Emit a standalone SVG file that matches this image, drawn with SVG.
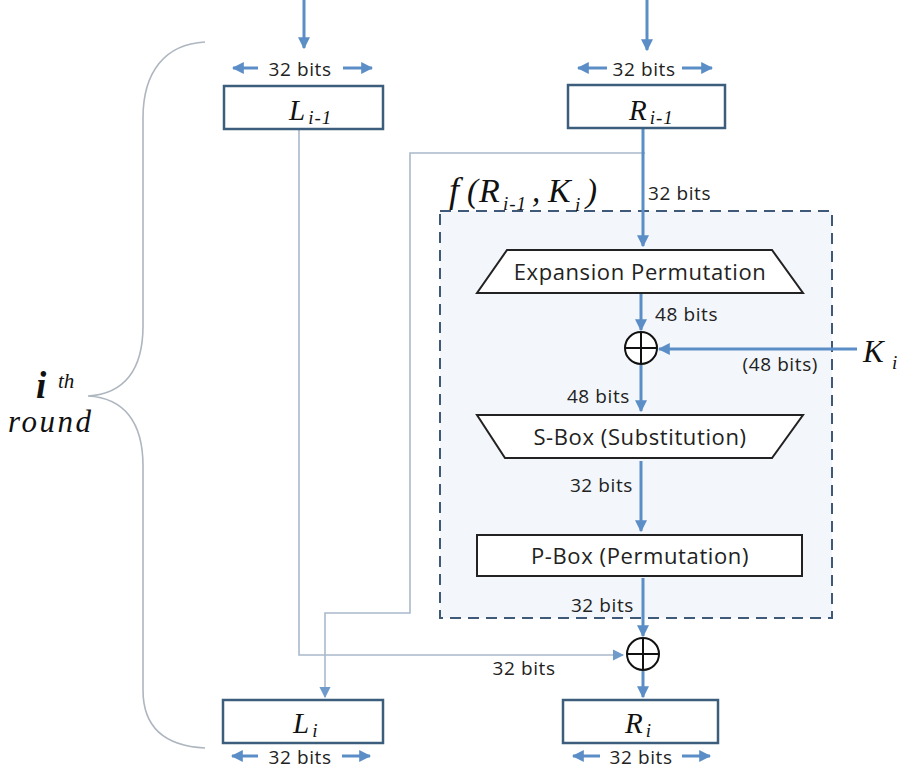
<svg xmlns="http://www.w3.org/2000/svg" width="903" height="771" viewBox="0 0 903 771">
<defs>
<marker id="ah" viewBox="0 0 10 10" refX="9" refY="5" markerWidth="4" markerHeight="4" orient="auto-start-reverse" markerUnits="strokeWidth">
<path d="M0,0 L10,5 L0,10 z" fill="#5b8ec6"/>
</marker>
<marker id="ahs" viewBox="0 0 10 10" refX="9" refY="5" markerWidth="7" markerHeight="7" orient="auto-start-reverse" markerUnits="strokeWidth">
<path d="M0,0 L10,5 L0,10 z" fill="#6f9bcb"/>
</marker>
<style>
.lbl{font-family:"Open Sans","Noto Sans",sans-serif;font-size:19px;letter-spacing:0.6px;fill:#222}
.blbl{font-family:"Open Sans","Noto Sans",sans-serif;font-size:22px;letter-spacing:0.6px;fill:#222}
.box{fill:#fff;stroke:#3d5d7d;stroke-width:2.5}
.blk{fill:#fff;stroke:#222;stroke-width:2}
.math{font-family:"Liberation Serif","DejaVu Serif",serif;font-style:italic;fill:#111}
.sub{font-size:19px;letter-spacing:1px}
.arr{stroke:#5b8ec6;stroke-width:3;fill:none;marker-end:url(#ah)}
.thin{stroke:#a9b9ca;stroke-width:1.6;fill:none}
.xor{fill:#fff;stroke:#111;stroke-width:2}
</style>
</defs>
<rect width="903" height="771" fill="#fff"/>

<g id="f-box">
<rect x="440" y="211" width="392" height="407" fill="#f3f6fa" stroke="#3f5a78" stroke-width="2" stroke-dasharray="11,7"/>
<text x="449" y="202" class="math" font-size="36">f</text>
<text x="467" y="202" class="math" font-size="33" font-style="normal">(</text>
<text x="479" y="202" class="math" font-size="34">R</text>
<text x="503" y="210" class="math sub" font-size="20">i-1</text>
<text x="532" y="202" class="math" font-size="33" font-style="normal">,</text>
<text x="548" y="202" class="math" font-size="34">K</text>
<text x="575" y="211" class="math sub" font-size="20">i</text>
<text x="586" y="202" class="math" font-size="33" font-style="normal">)</text>
</g>

<g id="round-brace">
<path d="M205,42 C165,44 143,72 143,118 L143,326 C143,370 124,394 88,396 C124,398 143,422 143,466 L143,690 C143,728 165,746 205,748" fill="none" stroke="#aeb6bf" stroke-width="1.6"/>
<text x="36" y="398" font-family="Liberation Serif,DejaVu Serif,serif" font-style="italic" font-weight="bold" font-size="37" fill="#111">i</text>
<text x="58" y="388" class="math" font-size="21">th</text>
<text x="8" y="432" class="math" font-size="31" letter-spacing="2.5">round</text>
</g>

<g id="connectors">
<line x1="304" y1="0" x2="304" y2="48" class="arr"/>
<line x1="647" y1="0" x2="647" y2="50" class="arr"/>
<polyline points="299,130 299,655 623,655" class="thin" marker-end="url(#ahs)"/>
<polyline points="645,153 410,153 410,613 325,613 325,697" class="thin" marker-end="url(#ahs)"/>
<line x1="643" y1="128" x2="643" y2="246" class="arr"/>
<line x1="641" y1="294" x2="641" y2="330" class="arr"/>
<line x1="857" y1="349" x2="659" y2="349" class="arr"/>
<line x1="641" y1="365" x2="641" y2="411" class="arr"/>
<line x1="641" y1="461" x2="641" y2="531" class="arr"/>
<line x1="643" y1="578" x2="643" y2="636" class="arr"/>
<line x1="643" y1="671" x2="643" y2="697" class="arr"/>
<line x1="258" y1="68" x2="233" y2="68" class="arr"/>
<line x1="343" y1="68" x2="372" y2="68" class="arr"/>
<line x1="607" y1="68" x2="578" y2="68" class="arr"/>
<line x1="682" y1="68" x2="712" y2="68" class="arr"/>
<line x1="258" y1="756" x2="232" y2="756" class="arr"/>
<line x1="342" y1="756" x2="370" y2="756" class="arr"/>
<line x1="600" y1="756" x2="573" y2="756" class="arr"/>
<line x1="682" y1="756" x2="710" y2="756" class="arr"/>
</g>

<g id="L-prev">
<rect x="224" y="86" width="159" height="43" class="box"/>
<text x="289" y="120" class="math" font-size="29">L<tspan class="sub" dx="3" dy="4">i-1</tspan></text>
</g>
<g id="R-prev">
<rect x="568" y="85" width="157" height="43" class="box"/>
<text x="629" y="120" class="math" font-size="29">R<tspan class="sub" dx="3" dy="4">i-1</tspan></text>
</g>

<g id="expansion">
<polygon points="507,250 772,250 803,293 477,293" class="blk"/>
<text x="640" y="280" class="blbl" text-anchor="middle">Expansion Permutation</text>
</g>

<g id="xor1">
<circle cx="641" cy="348" r="16" class="xor"/>
<line x1="625" y1="348" x2="657" y2="348" stroke="#111" stroke-width="2"/>
<line x1="641" y1="332" x2="641" y2="364" stroke="#111" stroke-width="2"/>
</g>

<g id="K">
<text x="863" y="362" class="math" font-size="31">K</text>
<text x="892" y="369" class="math" font-size="19">i</text>
</g>

<g id="sbox">
<polygon points="477,415 803,415 772,458 505,458" class="blk"/>
<text x="640" y="445" class="blbl" text-anchor="middle">S-Box (Substitution)</text>
</g>

<g id="pbox">
<rect x="477" y="535" width="325" height="41" class="blk"/>
<text x="640" y="564" class="blbl" text-anchor="middle">P-Box (Permutation)</text>
</g>

<g id="xor2">
<circle cx="643" cy="654" r="16" class="xor"/>
<line x1="627" y1="654" x2="659" y2="654" stroke="#111" stroke-width="2"/>
<line x1="643" y1="638" x2="643" y2="670" stroke="#111" stroke-width="2"/>
</g>

<g id="L-next">
<rect x="223" y="700" width="160" height="43" class="box"/>
<text x="293" y="733" class="math" font-size="29">L<tspan class="sub" dx="3" dy="4">i</tspan></text>
</g>
<g id="R-next">
<rect x="563" y="700" width="155" height="43" class="box"/>
<text x="625" y="733" class="math" font-size="29">R<tspan class="sub" dx="3" dy="4">i</tspan></text>
</g>

<g id="labels">
<text x="300" y="76" class="lbl" text-anchor="middle">32 bits</text>
<text x="644" y="76" class="lbl" text-anchor="middle">32 bits</text>
<text x="648" y="200" class="lbl">32 bits</text>
<text x="655" y="321" class="lbl">48 bits</text>
<text x="818" y="371" class="lbl" text-anchor="end">(48 bits)</text>
<text x="630" y="403" class="lbl" text-anchor="end">48 bits</text>
<text x="633" y="492" class="lbl" text-anchor="end">32 bits</text>
<text x="634" y="612" class="lbl" text-anchor="end">32 bits</text>
<text x="524" y="675" class="lbl" text-anchor="middle">32 bits</text>
<text x="300" y="764" class="lbl" text-anchor="middle">32 bits</text>
<text x="641" y="764" class="lbl" text-anchor="middle">32 bits</text>
</g>
</svg>
